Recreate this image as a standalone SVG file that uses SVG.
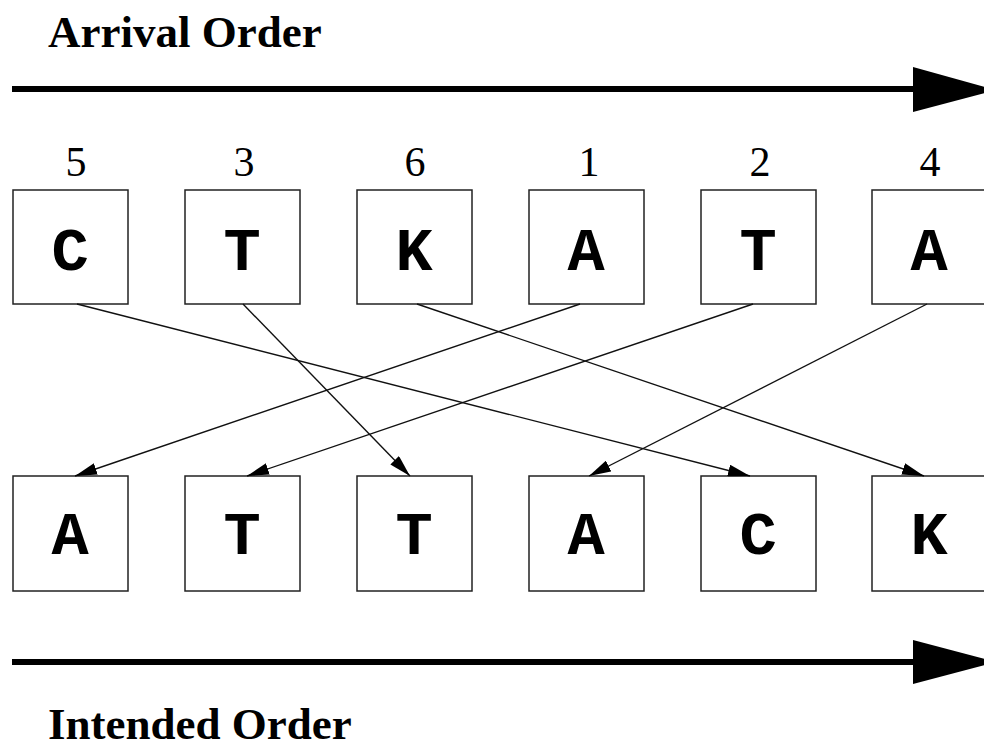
<svg xmlns="http://www.w3.org/2000/svg" width="984" height="749" viewBox="0 0 984 749">
<style>
.box{fill:#fff;stroke:#222;stroke-width:1.5}
.letter{font-family:"Liberation Mono",monospace;font-weight:bold;font-size:62px;text-anchor:middle;fill:#000}
.num{font-family:"Liberation Serif",serif;font-size:42px;text-anchor:middle;fill:#000}
.title{font-family:"Liberation Serif",serif;font-weight:bold;font-size:45px;fill:#000}
.conn{stroke:#111;stroke-width:1.4;fill:none;marker-end:url(#ah)}
.big{stroke:#000;stroke-width:6;fill:none}
</style>
<defs>
<marker id="ah" viewBox="0 0 22 12" refX="22" refY="6" markerWidth="22" markerHeight="12" markerUnits="userSpaceOnUse" orient="auto">
<path d="M0,0 L22,6 L0,12 Z" fill="#000"/>
</marker>
</defs>
<rect width="984" height="749" fill="#fff"/>
<text class="title" x="48" y="47">Arrival Order</text>
<text class="title" x="48" y="739">Intended Order</text>
<g id="arrow-top">
<line class="big" x1="12" y1="89" x2="915" y2="89"/>
<path d="M913,67 L996,90 L913,112 Z" fill="#000"/>
</g>
<g id="arrow-bottom">
<line class="big" x1="12" y1="662" x2="915" y2="662"/>
<path d="M913,640 L996,662 L913,684 Z" fill="#000"/>
</g>
<g id="top1"><text class="num" x="76" y="176">5</text><rect class="box" x="13" y="190" width="115" height="114"/><text class="letter" x="70" y="270">C</text></g>
<g id="top2"><text class="num" x="244" y="176">3</text><rect class="box" x="185" y="190" width="115" height="114"/><text class="letter" x="242" y="270">T</text></g>
<g id="top3"><text class="num" x="415" y="176">6</text><rect class="box" x="357" y="190" width="115" height="114"/><text class="letter" x="414" y="270">K</text></g>
<g id="top4"><text class="num" x="589" y="176">1</text><rect class="box" x="529" y="190" width="115" height="114"/><text class="letter" x="586" y="270">A</text></g>
<g id="top5"><text class="num" x="760" y="176">2</text><rect class="box" x="701" y="190" width="115" height="114"/><text class="letter" x="758" y="270">T</text></g>
<g id="top6"><text class="num" x="930" y="176">4</text><rect class="box" x="872" y="190" width="115" height="114"/><text class="letter" x="929" y="270">A</text></g>
<g id="bot1"><rect class="box" x="13" y="476" width="115" height="115"/><text class="letter" x="70" y="554">A</text></g>
<g id="bot2"><rect class="box" x="185" y="476" width="115" height="115"/><text class="letter" x="242" y="554">T</text></g>
<g id="bot3"><rect class="box" x="357" y="476" width="115" height="115"/><text class="letter" x="414" y="554">T</text></g>
<g id="bot4"><rect class="box" x="529" y="476" width="115" height="115"/><text class="letter" x="586" y="554">A</text></g>
<g id="bot5"><rect class="box" x="701" y="476" width="115" height="115"/><text class="letter" x="758" y="554">C</text></g>
<g id="bot6"><rect class="box" x="872" y="476" width="115" height="115"/><text class="letter" x="929" y="554">K</text></g>
<g id="connectors">
<line class="conn" x1="77" y1="304" x2="750" y2="476"/>
<line class="conn" x1="243" y1="304" x2="410" y2="476"/>
<line class="conn" x1="417" y1="304" x2="924" y2="476"/>
<line class="conn" x1="580" y1="304" x2="75" y2="476"/>
<line class="conn" x1="753" y1="304" x2="247" y2="476"/>
<line class="conn" x1="927" y1="304" x2="589" y2="476"/>
</g>
</svg>
